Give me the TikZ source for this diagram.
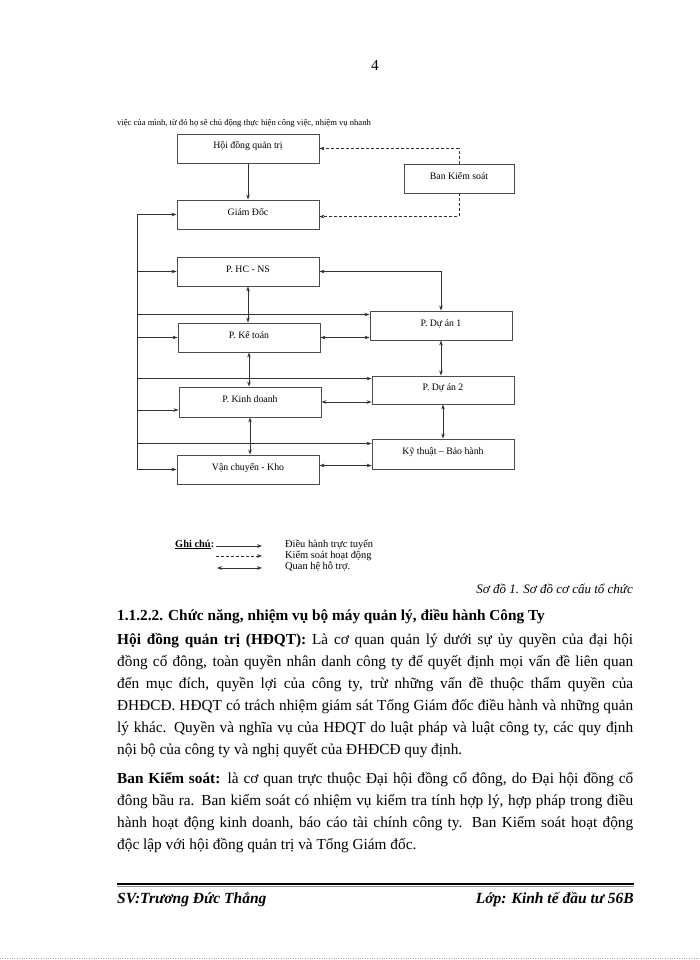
\documentclass[tikz,border=0pt]{standalone}
\usepackage{fontspec}
\setmainfont{Liberation Serif}
\usetikzlibrary{arrows.meta, positioning}
\newcommand{\jline}[1]{\makebox[516pt][s]{#1}}

\begin{document}
\begin{tikzpicture}[
    x=1pt, y=-1pt,
    box/.style={rectangle, draw=black!70, line width=0.9pt, fill=white,
                minimum width=142pt, minimum height=29pt, inner sep=0pt,
                text height=6pt, text depth=5pt,
                font=\fontsize{9.8}{11}\selectfont},
    arr/.style={-{Stealth[length=5pt,width=3.6pt]}, line width=0.8pt, color=black!80},
    dbl/.style={{Stealth[length=5pt,width=3.6pt]}-{Stealth[length=5pt,width=3.6pt]},
                line width=0.8pt, color=black!80},
    ctl/.style={arr, dash pattern=on 3pt off 2pt},
    bus/.style={line width=0.8pt, color=black!80},
    body/.style={anchor=base west, inner sep=0pt, font=\fontsize{15.3}{18}\selectfont},
    legend/.style={anchor=base west, inner sep=0pt, font=\fontsize{10.4}{11}\selectfont}
]
\fill[white] (0,0) rectangle (700,960);
\useasboundingbox (0,0) rectangle (700,960);

% page head
\node[body, anchor=base] (PAGE) at (375,71) {4};
\node[anchor=base west, inner sep=0pt, font=\fontsize{8.6}{10}\selectfont] (TOP) at (117,126)
    {việc của mình, từ đó họ sẽ chủ động thực hiện công việc, nhiệm vụ nhanh};

% boxes
\node[box] (HDQT) at (248,148.5) {Hội đồng quản trị};
\node[box, minimum width=110pt] (BKS) at (459,178.5) {Ban Kiểm soát};
\node[box] (GD) at (248,214.5) {Giám Đốc};
\node[box] (HCNS) at (248,271.5) {P. HC - NS};
\node[box] (KT) at (249,337.5) {P. Kế toán};
\node[box, minimum height=30pt] (KD) at (250,402) {P. Kinh doanh};
\node[box] (VC) at (248,469.5) {Vận chuyển - Kho};
\node[box] (DA1) at (441,325.5) {P. Dự án 1};
\node[box, minimum height=28pt] (DA2) at (443,390) {P. Dự án 2};
\node[box, minimum height=30pt] (KTBH) at (443,454) {Kỹ thuật – Bảo hành};

% control lines
\draw[arr] (HDQT) -- (GD);
\draw[ctl] (BKS.north) |- (HDQT.east);
\draw[ctl] (BKS.south) |- ([yshift=-2pt]GD.east);

% left bus
\coordinate (BUS) at (137,214.5);
\coordinate (KDin) at ([yshift=-8pt]KD.west);
\coordinate (DA1in) at ([yshift=-4pt]DA1.north west);
\coordinate (DA2in) at ([yshift=-3pt]DA2.north west);
\coordinate (KTBHin) at ([yshift=-5pt]KTBH.north west);
\draw[bus] (BUS) -- (BUS |- VC.west);
\draw[arr] (BUS) -- (GD.west);
\draw[arr] (BUS |- HCNS.west) -- (HCNS.west);
\draw[arr] (BUS |- DA1in) -- (DA1in);
\draw[arr] (BUS |- KT.west) -- (KT.west);
\draw[arr] (BUS |- DA2in) -- (DA2in);
\draw[arr] (BUS |- KDin) -- (KDin);
\draw[arr] (BUS |- KTBHin) -- (KTBHin);
\draw[arr] (BUS |- VC.west) -- (VC.west);

% support lines
\coordinate (VCout) at ([yshift=4pt]VC.east);
\draw[dbl] (HCNS.east) -| (DA1.north);
\draw[dbl] (HCNS.south) -- (HCNS.south |- KT.north);
\draw[dbl] (KT.east) -- (KT.east -| DA1.west);
\draw[dbl] (KT.south) -- (KT.south |- KD.north);
\draw[dbl] (DA1.south) -- (DA1.south |- DA2.north);
\draw[dbl] (KD.east) -- (KD.east -| DA2.west);
\draw[dbl] (DA2.south) -- (DA2.south |- KTBH.north);
\draw[dbl] (KD.south) -- (KD.south |- VC.north);
\draw[dbl] (VCout) -- (VCout -| KTBH.west);

% legend
\node[legend] (GHICHU) at (175,547) {\underline{\textbf{Ghi chú}}\textbf{:}};
\coordinate (L1a) at (216,546); \coordinate (L1b) at (262,546);
\coordinate (L2a) at (216,556); \coordinate (L2b) at (262,556);
\coordinate (L3a) at (217,568); \coordinate (L3b) at (262,568);
\draw[arr] (L1a) -- (L1b);
\draw[ctl] (L2a) -- (L2b);
\draw[dbl] (L3a) -- (L3b);
\node[legend] (LG1) at (285,547) {Điều hành trực tuyến};
\node[legend] (LG2) at (285,558) {Kiểm soát hoạt động};
\node[legend] (LG3) at (285,569.5) {Quan hệ hỗ trợ.};
\node[anchor=base east, inner sep=0pt, font=\fontsize{13}{15}\selectfont\itshape] (CAP)
    at (633,593) {Sơ đồ 1. Sơ đồ cơ cấu tổ chức};

% text
\node[body, font=\fontsize{15.3}{18}\selectfont\bfseries] (H1) at (117,620)
    {1.1.2.2. Chức năng, nhiệm vụ bộ máy quản lý, điều hành Công Ty};
\node[body] (P1a) at (117,644) {\jline{\textbf{Hội đồng quản trị (HĐQT):} Là cơ quan quản lý dưới sự ủy quyền của đại hội}};
\node[body] (P1b) at (117,666) {\jline{đồng cổ đông, toàn quyền nhân danh công ty để quyết định mọi vấn đề liên quan}};
\node[body] (P1c) at (117,688) {\jline{đến mục đích, quyền lợi của công ty, trừ những vấn đề thuộc thẩm quyền của}};
\node[body] (P1d) at (117,710) {\jline{ĐHĐCĐ. HĐQT có trách nhiệm giám sát Tổng Giám đốc điều hành và những quản}};
\node[body] (P1e) at (117,732) {\jline{lý khác. Quyền và nghĩa vụ của HĐQT do luật pháp và luật công ty, các quy định}};
\node[body] (P1f) at (117,754) {nội bộ của công ty và nghị quyết của ĐHĐCĐ quy định.};
\node[body] (P2a) at (117,783) {\jline{\textbf{Ban Kiểm soát:} là cơ quan trực thuộc Đại hội đồng cổ đông, do Đại hội đồng cổ}};
\node[body] (P2b) at (117,805) {\jline{đông bầu ra. Ban kiểm soát có nhiệm vụ kiểm tra tính hợp lý, hợp pháp trong điều}};
\node[body] (P2c) at (117,827) {\jline{hành hoạt động kinh doanh, báo cáo tài chính công ty. Ban Kiểm soát hoạt động}};
\node[body] (P2d) at (117,849) {độc lập với hội đồng quản trị và Tổng Giám đốc.};

% footer
\draw[line width=2.6pt, black] (117,884) -- (634,884);
\draw[line width=0.8pt, black!45] (117,886.5) -- (634,886.5);
\node[body, font=\fontsize{15.5}{18}\selectfont\bfseries\itshape] (SV) at (117,903) {SV:Trương Đức Thắng};
\node[body, anchor=base east, font=\fontsize{15.5}{18}\selectfont\bfseries\itshape] (LOP) at (634,903)
    {Lớp: Kinh tế đầu tư 56B};
\draw[black!35, dotted] (0,958) -- (700,958);
\end{tikzpicture}
\end{document}
